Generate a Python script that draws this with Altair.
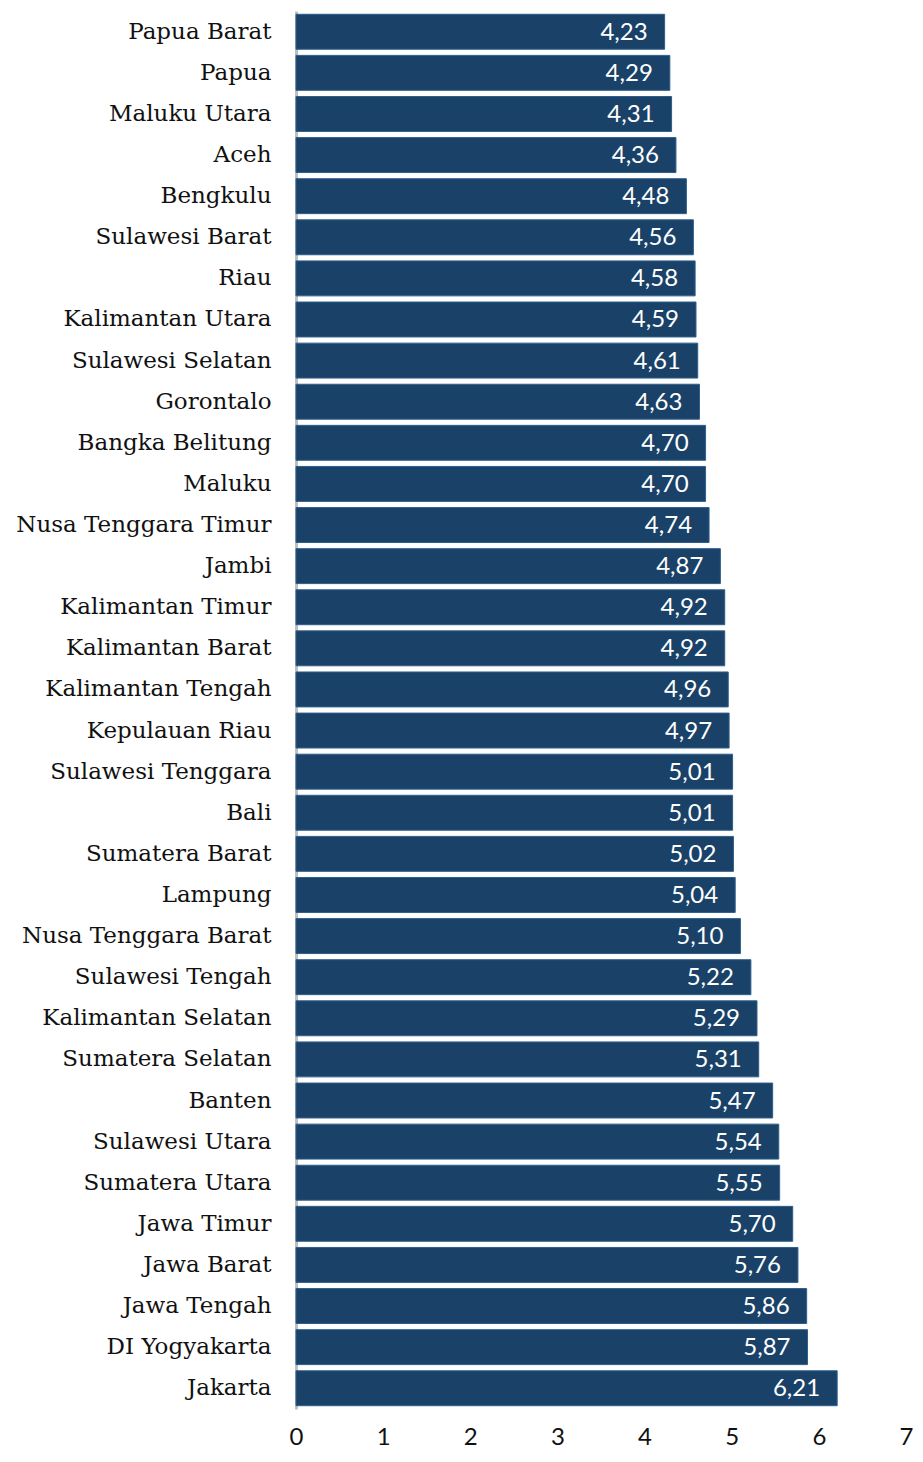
import altair as alt
import pandas as pd

provinces = ["Papua Barat", "Papua", "Maluku Utara", "Aceh", "Bengkulu", "Sulawesi Barat",
             "Riau", "Kalimantan Utara", "Sulawesi Selatan", "Gorontalo", "Bangka Belitung",
             "Maluku", "Nusa Tenggara Timur", "Jambi", "Kalimantan Timur", "Kalimantan Barat",
             "Kalimantan Tengah", "Kepulauan Riau", "Sulawesi Tenggara", "Bali", "Sumatera Barat",
             "Lampung", "Nusa Tenggara Barat", "Sulawesi Tengah", "Kalimantan Selatan",
             "Sumatera Selatan", "Banten", "Sulawesi Utara", "Sumatera Utara", "Jawa Timur",
             "Jawa Barat", "Jawa Tengah", "DI Yogyakarta", "Jakarta"]
values = [4.23, 4.29, 4.31, 4.36, 4.48, 4.56, 4.58, 4.59, 4.61, 4.63, 4.70, 4.70, 4.74, 4.87,
          4.92, 4.92, 4.96, 4.97, 5.01, 5.01, 5.02, 5.04, 5.10, 5.22, 5.29, 5.31, 5.47, 5.54,
          5.55, 5.70, 5.76, 5.86, 5.87, 6.21]

df = pd.DataFrame({"prov": provinces, "val": values})

y = alt.Y("prov:N", sort=provinces, title=None,
          scale=alt.Scale(paddingInner=0.15, paddingOuter=0.08),
          axis=alt.Axis(ticks=False, domainColor="#bfbfbf", domainWidth=3,
                        labelFont="DejaVu Serif", labelFontSize=23,
                        labelColor="#111111", labelPadding=25, labelLimit=0))
x = alt.X("val:Q", title=None, scale=alt.Scale(domain=[0, 7], nice=False),
          axis=alt.Axis(values=[0, 1, 2, 3, 4, 5, 6, 7], format="d", grid=False, domain=False,
                        ticks=False, labelFont="Lato", labelFontSize=24, labelColor="#111111",
                        labelPadding=16, labelFlush=False))

bars = alt.Chart(df).mark_bar(color="#1a4268", stroke="#2d5f8c", strokeWidth=1).encode(x=x, y=y)
text = alt.Chart(df).transform_calculate(
    lab="replace(format(datum.val, '.2f'), '.', ',')"
).mark_text(align="right", baseline="middle", dx=-17, dy=1, color="white",
            font="Lato", fontSize=24).encode(x="val:Q", y=alt.Y("prov:N", sort=provinces), text="lab:N")

chart = (bars + text).properties(
    width=610, height=1398,
    autosize=alt.AutoSizeParams(type="none"),
    padding={"left": 288, "top": 3, "right": 9, "bottom": 44}
).configure_view(stroke=None)

chart.save("out.html", embed_options={"renderer": "svg", "actions": False})
